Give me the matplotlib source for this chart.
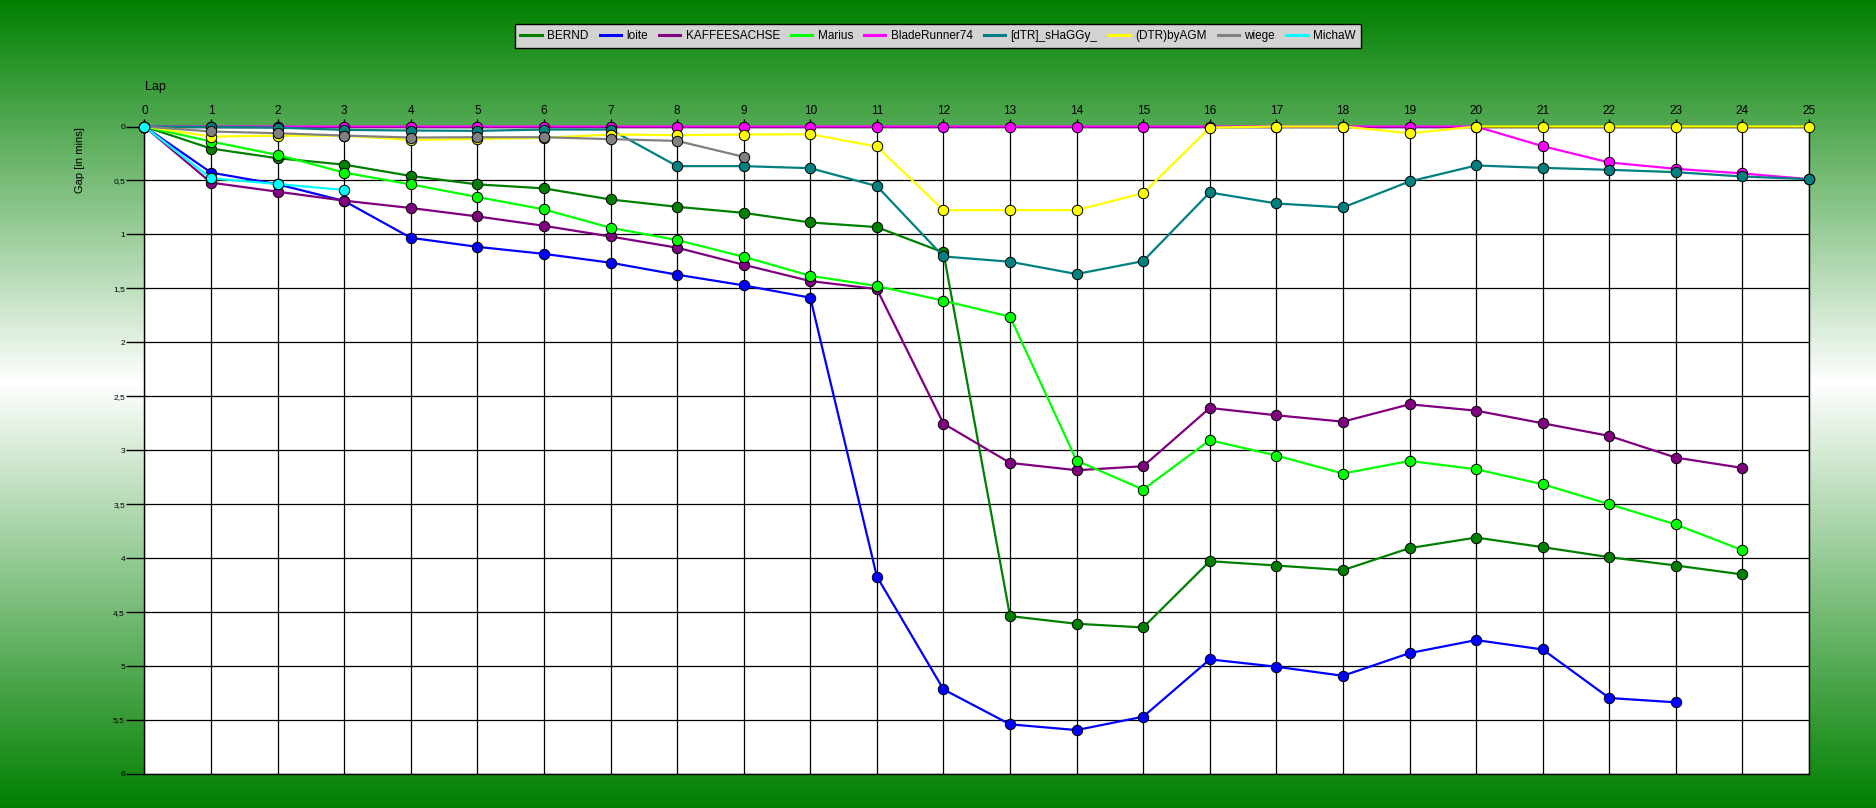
import numpy as np
import matplotlib.pyplot as plt
from matplotlib.lines import Line2D

plt.rcParams['font.family'] = ['Liberation Sans', 'DejaVu Sans']

names = ["BERND", "loite", "KAFFEESACHSE", "Marius", "BladeRunner74",
         "[dTR]_sHaGGy_", "(DTR)byAGM", "wiege", "MichaW"]
colors = ["#008000", "#0000ff", "#800080", "#00ff00", "#ff00ff",
          "#008080", "#ffff00", "#808080", "#00ffff"]

# gap to leader in minutes, per lap (lap 0 first)
bernd = [0, 0.204, 0.294, 0.353, 0.458, 0.536, 0.573, 0.676, 0.744, 0.800, 0.889,
         0.932, 1.167, 4.537, 4.608, 4.642, 4.028, 4.068, 4.111, 3.907, 3.809,
         3.898, 3.991, 4.068, 4.151]
loite = [0, 0.427, 0.535, 0.690, 1.031, 1.115, 1.180, 1.262, 1.373, 1.472, 1.586,
         4.170, 5.216, 5.540, 5.593, 5.469, 4.938, 5.006, 5.090, 4.880, 4.759,
         4.846, 5.296, 5.336]
kaffee = [0, 0.520, 0.604, 0.687, 0.755, 0.833, 0.920, 1.019, 1.123, 1.281, 1.432,
          1.506, 2.753, 3.117, 3.185, 3.148, 2.608, 2.676, 2.735, 2.574, 2.633,
          2.750, 2.867, 3.068, 3.164]
marius = [0, 0.139, 0.263, 0.427, 0.536, 0.653, 0.768, 0.938, 1.052, 1.207, 1.383,
          1.478, 1.614, 1.762, 3.096, 3.364, 2.907, 3.049, 3.216, 3.099, 3.176,
          3.315, 3.500, 3.688, 3.926]
blade = [0, 0, 0, 0, 0, 0, 0, 0, 0, 0, 0, 0, 0, 0, 0, 0, 0, 0, 0, 0, 0,
         0.182, 0.333, 0.392, 0.435, 0.488]
shaggy = [0, 0.005, 0.010, 0.031, 0.037, 0.040, 0.028, 0.028, 0.367, 0.367, 0.386,
          0.552, 1.204, 1.253, 1.367, 1.247, 0.611, 0.713, 0.750, 0.509, 0.361,
          0.383, 0.401, 0.423, 0.463, 0.488]
agm = [0, 0.093, 0.084, 0.085, 0.124, 0.115, 0.105, 0.074, 0.080, 0.074, 0.071,
       0.185, 0.775, 0.775, 0.775, 0.617, 0.010, 0, 0, 0.062, 0, 0, 0, 0, 0, 0]
wiege = [0, 0.046, 0.062, 0.084, 0.102, 0.099, 0.099, 0.117, 0.133, 0.281]
michaw = [0, 0.480, 0.533, 0.588]

series = [bernd, loite, kaffee, marius, blade, shaggy, agm, wiege, michaw]

yticks = [0, 0.5, 1, 1.5, 2, 2.5, 3, 3.5, 4, 4.5, 5, 5.5, 6]

fig = plt.figure(figsize=(18.76, 8.08), dpi=100)

# green - white - green background
bg = fig.add_axes([0, 0, 1, 1], zorder=-10)
h = 808
t = np.linspace(0, 1, h)
mid = 0.474
f = np.where(t < mid, t / mid, (1 - t) / (1 - mid))
green = np.array([0, 128, 0]) / 255
grad = green[None, :] + (1 - green[None, :]) * f[:, None]
bg.imshow(grad[:, None, :], aspect="auto", extent=[0, 1, 0, 1])
bg.axis("off")

ax = fig.add_axes([0.0770, 0.0421, 0.8873, 0.8013])
ax.set_facecolor("white")

for name, col, vals in zip(names, colors, series):
    x = np.arange(len(vals))
    ax.plot(x, vals, color=col, lw=1.6, marker="o", ms=7.5,
            mfc=col, mec="black", mew=0.7, clip_on=False, zorder=3)

ax.set_xlim(0, 25)
ax.set_ylim(6, 0)
ax.set_xticks(range(26))
ax.set_yticks(yticks)
ax.set_yticklabels([("%g" % v).replace(".", ",") for v in yticks])
ax.xaxis.tick_top()
ax.tick_params(axis="x", direction="out", length=6, width=1, labelsize=8.5, pad=1)
ax.tick_params(axis="y", direction="out", length=13, width=1, labelsize=6, pad=1)
ax.grid(True, color="black", lw=0.9)
ax.set_axisbelow(True)
for s in ax.spines.values():
    s.set_color("black")
    s.set_linewidth(1)

fig.text(155 / 1876, 1 - 87 / 808, "Lap", ha="center", va="center", fontsize=9)
fig.text(80 / 1876, 1 - 160 / 808, "Gap [in mins]", ha="center", va="center",
         rotation=90, fontsize=8)

handles = [Line2D([], [], color=c, lw=2.2) for c in colors]
leg = fig.legend(handles, names, loc="upper center", ncol=9,
                 bbox_to_anchor=(0.5, 1 - 24 / 808), borderaxespad=0,
                 fontsize=8.5, frameon=True, fancybox=False, handlelength=1.8,
                 handletextpad=0.45, columnspacing=0.95, borderpad=0.5)
leg.get_frame().set_facecolor("#d3d3d3")
leg.get_frame().set_edgecolor("black")
leg.get_frame().set_alpha(1)
leg.get_frame().set_linewidth(1)

fig.savefig("out.png", dpi=100)
